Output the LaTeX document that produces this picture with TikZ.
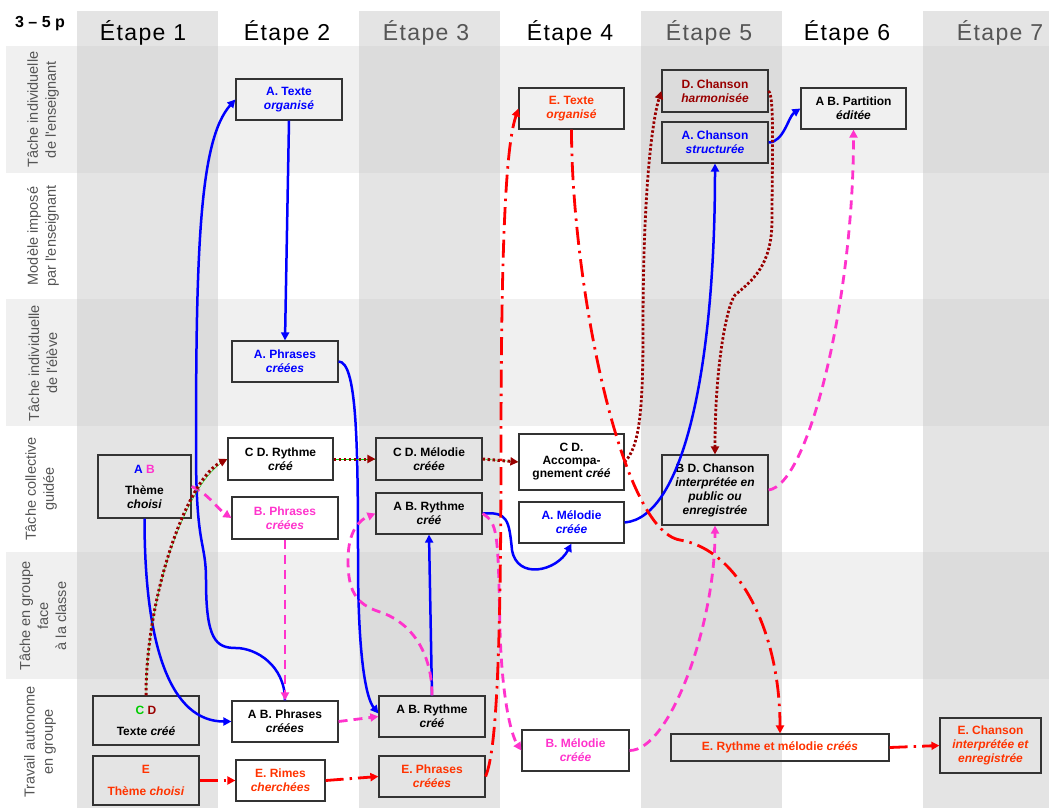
\documentclass[tikz,border=0pt]{standalone}
\usepackage{fontspec}
\setmainfont{Liberation Sans}
\newfontfamily\etapefont[LetterSpace=6]{Liberation Sans}
\usetikzlibrary{arrows.meta}
\definecolor{ablue}{RGB}{0,0,255}
\definecolor{bpink}{RGB}{255,51,204}
\definecolor{cgreen}{RGB}{0,204,0}
\definecolor{ddred}{RGB}{153,0,0}
\definecolor{eorange}{RGB}{255,51,0}
\definecolor{ered}{RGB}{255,0,0}
\definecolor{bandgray}{RGB}{240,240,240}
\definecolor{colgray}{RGB}{228,228,228}
\definecolor{crossgray}{RGB}{220,220,220}
\definecolor{labelgray}{RGB}{85,85,85}
\definecolor{boxline}{RGB}{51,51,51}
\begin{document}
\begin{tikzpicture}[x = 1pt, y = -1pt,
  > = {Triangle[length = 8pt, width = 8pt]},
  box/.style = {draw = boxline, line width = 1.2pt, align = center, inner sep = 0pt,
    minimum width = 106pt, minimum height = 41pt, font = \bfseries\fontsize{12}{14}\selectfont},
  rowlabel/.style = {rotate = 90, align = center, text = labelgray, font = \fontsize{14.5}{18}\selectfont},
  etape/.style = {anchor = base, font = \etapefont\fontsize{23}{26}\selectfont},
  apath/.style = {ablue, line width = 2.5pt, ->},
  bpath/.style = {bpink, line width = 2.8pt, dash pattern = on 9pt off 6pt, ->},
  cdpath/.style = {ddred, line width = 3pt, dash pattern = on 2.5pt off 2.5pt,
    preaction = {draw = cgreen, solid, arrows = -}, ->},
  dpath/.style = {ddred, line width = 2.8pt, dash pattern = on 2.5pt off 2pt, ->},
  epath/.style = {ered, line width = 2.8pt, dash pattern = on 18pt off 6pt on 2.5pt off 6pt, ->}]
\useasboundingbox (0,0) rectangle (1049,808);
% grid
\fill [bandgray] (6,46) rectangle (1049,173);
\fill [bandgray] (6,299) rectangle (1049,426);
\fill [bandgray] (6,552) rectangle (1049,679);
\fill [colgray] (77,11) rectangle (218,808);
\fill [colgray] (359,11) rectangle (500,808);
\fill [colgray] (641,11) rectangle (782,808);
\fill [colgray] (923,11) rectangle (1049,808);
\fill [crossgray] (77,46) rectangle (218,173);
\fill [crossgray] (77,299) rectangle (218,426);
\fill [crossgray] (77,552) rectangle (218,679);
\fill [crossgray] (359,46) rectangle (500,173);
\fill [crossgray] (359,299) rectangle (500,426);
\fill [crossgray] (359,552) rectangle (500,679);
\fill [crossgray] (641,46) rectangle (782,173);
\fill [crossgray] (641,299) rectangle (782,426);
\fill [crossgray] (641,552) rectangle (782,679);
\fill [crossgray] (923,46) rectangle (1049,173);
\fill [crossgray] (923,299) rectangle (1049,426);
\fill [crossgray] (923,552) rectangle (1049,679);
% headers
\node [anchor = base, font = \bfseries\fontsize{16}{18}\selectfont] (duree) at (40,28) {3 – 5 p};
\node [etape] (etape1) at (143,41) {Étape 1};
\node [etape] (etape2) at (287,41) {Étape 2};
\node [etape, text = labelgray] (etape3) at (426,41) {Étape 3};
\node [etape] (etape4) at (570,41) {Étape 4};
\node [etape, text = labelgray] (etape5) at (709,41) {Étape 5};
\node [etape] (etape6) at (847,41) {Étape 6};
\node [etape, text = labelgray] (etape7) at (1000,41) {Étape 7};
\node [rowlabel] (lab1) at (43,109.5) {Tâche individuelle\\de l\textquotesingle enseignant};
\node [rowlabel] (lab2) at (43,236) {Modèle imposé\\par l\textquotesingle enseignant};
\node [rowlabel] (lab3) at (43,363) {Tâche individuelle\\de l\textquotesingle élève};
\node [rowlabel] (lab4) at (41,489) {Tâche collective\\guidée};
\node [rowlabel] (lab5) at (43,616) {Tâche en groupe\\face\\à la classe};
\node [rowlabel] (lab6) at (40,742) {Travail autonome\\en groupe};
% boxes
\node [box, text = ablue] (txtA) at (289,99.5) {A. Texte\\\textit{organisé}};
\node [box, text = ablue] (phrA) at (285,361.5) {A. Phrases\\\textit{créées}};
\node [box, minimum width = 105pt, minimum height = 42pt] (rythCD) at (280.5,459) {C D. Rythme\\\textit{créé}};
\node [box, text = bpink, minimum height = 42pt] (phrB) at (285,518) {B. Phrases\\\textit{créées}};
\node [box, minimum width = 93pt, minimum height = 63pt] (themeAB) at (144.5,486.5) {\textcolor{ablue}{A} \textcolor{bpink}{B}\\[7pt]Thème\\\textit{choisi}};
\node [box, minimum height = 49pt] (texteCD) at (146,720.5) {\textcolor{cgreen}{C} \textcolor{ddred}{D}\\[7pt]Texte \textit{créé}};
\node [box, text = eorange, minimum height = 49pt] (themeE) at (146,780.5) {E\\[8pt]Thème \textit{choisi}};
\node [box] (phrAB) at (285,721.5) {A B. Phrases\\\textit{créées}};
\node [box, text = eorange, minimum width = 89pt] (rimesE) at (280.5,780.5) {E. Rimes\\\textit{cherchées}};
\node [box, minimum height = 42pt] (melCD) at (429,459) {C D. Mélodie\\\textit{créée}};
\node [box] (rythAB) at (429,513.5) {A B. Rythme\\\textit{créé}};
\node [box] (rythAB2) at (432,716.5) {A B. Rythme\\\textit{créé}};
\node [box, text = eorange] (phrE) at (432,776.5) {E. Phrases\\\textit{créées}};
\node [box, text = bpink, minimum width = 107pt] (melB) at (575.5,750.5) {B. Mélodie\\\textit{créée}};
\node [box, text = eorange, minimum width = 105pt] (txtE) at (571.5,108.5) {E. Texte\\\textit{organisé}};
\node [box, minimum width = 105pt, minimum height = 56pt, font = \bfseries\fontsize{12}{13}\selectfont] (accCD) at (571.5,462) {C D.\\Accompa-\\gnement \textit{créé}};
\node [box, text = ablue, minimum width = 105pt] (melA) at (571.5,522.5) {A. Mélodie\\\textit{créée}};
\node [box, text = ddred, minimum height = 42pt] (chanD) at (715,91) {D. Chanson\\\textit{harmonisée}};
\node [box, text = ablue] (chanA) at (715,142.5) {A. Chanson\\\textit{structurée}};
\node [box, minimum width = 105pt] (partAB) at (853.5,108.5) {A B. Partition\\\textit{éditée}};
\node [box, minimum height = 70pt] (chanBD) at (715,490) {B D. Chanson\\\textit{interprétée en}\\\textit{public ou}\\\textit{enregistrée}};
\node [box, text = eorange, minimum width = 218pt, minimum height = 27pt] (rmE) at (780,747.5) {E. Rythme et mélodie \textit{créés}};
\node [box, text = eorange, minimum width = 101pt, minimum height = 55pt] (chanE) at (990.5,745.5) {E. Chanson\\\textit{interprétée et}\\\textit{enregistrée}};
% A
\draw [apath] (themeAB.south) .. controls +(0,130) and +(-60,0) .. (phrAB.west);
\draw [apath] (phrAB.north) .. controls +(0,-35) and +(20,0) .. (236,648) .. controls +(-20,0) and +(0,60) .. (206,580) .. controls +(0,-40) and +(0,100) .. (196,450) .. controls +(0,-200) and +(-36,40) .. (txtA.west);
\draw [apath] (txtA.south) -- (phrA.north);
\draw [apath] (phrA.east) .. controls +(18,0) and +(0,-120) .. (358,560) .. controls +(0,100) and +(-12,-15) .. ([yshift = 3pt]rythAB2.west);
\draw [apath] (rythAB2.north) -- (rythAB.south);
\draw [apath] (rythAB.east) .. controls +(25,-2) and +(-3,-30) .. (512,550) .. controls +(5,30) and +(-15,28) .. (melA.south);
\draw [apath] (melA.east) .. controls +(60,-5) and +(0,200) .. (chanA.south);
\draw [apath] (chanA.east) .. controls +(15,0) and +(-12,8) .. (partAB.west);
% B
\draw [bpath] (themeAB.east) .. controls +(18,8) and +(-15,-10) .. (phrB.west);
\draw [bpath] (phrB.south) -- (phrAB.north);
\draw [bpath] (phrAB.east) -- (rythAB2.west);
\draw [bpath] (rythAB2.north) .. controls +(0,-50) and +(25,8) .. (380,612) .. controls +(-25,-8) and +(0,30) .. (348,560) .. controls +(0,-30) and +(-15,6) .. (rythAB.west);
\draw [bpath] (rythAB.east) .. controls +(15,10) and +(-2,-100) .. (500,630) .. controls +(2,70) and +(-10,-15) .. (melB.west);
\draw [bpath] (melB.east) .. controls +(40,0) and +(0,100) .. (chanBD.south);
\draw [bpath] (chanBD.east) .. controls +(40,-5) and +(0,170) .. (partAB.south);
% C D
\draw [cdpath] (texteCD.north) .. controls +(0,-100) and +(-40,20) .. (rythCD.west);
\draw [cdpath] (rythCD.east) -- (melCD.west);
\draw [cdpath] (melCD.east) -- (accCD.west);
% D
\draw [dpath] (accCD.east) .. controls +(15,-15) and +(0,80) .. (643,330) .. controls +(0,-150) and +(-8,25) .. (chanD.west);
\draw [dpath] (chanD.east) .. controls +(6,5) and +(0,-60) .. (772,220) .. controls +(0,45) and +(18,-15) .. (735,295) .. controls +(-8,10) and +(0,-90) .. (chanBD.north);
% E
\draw [epath] (themeE.east) -- (rimesE.west);
\draw [epath] (rimesE.east) -- (phrE.west);
\draw [epath] (phrE.east) .. controls +(8,-20) and +(0,250) .. (501,450) .. controls +(0,-250) and +(-10,30) .. (txtE.west);
\draw [epath] (txtE.south) .. controls +(0,150) and +(-60,-10) .. (680,540) .. controls +(60,10) and +(0,-100) .. (rmE.north);
\draw [epath] (rmE.east) -- (chanE.west);
\end{tikzpicture}
\end{document}
